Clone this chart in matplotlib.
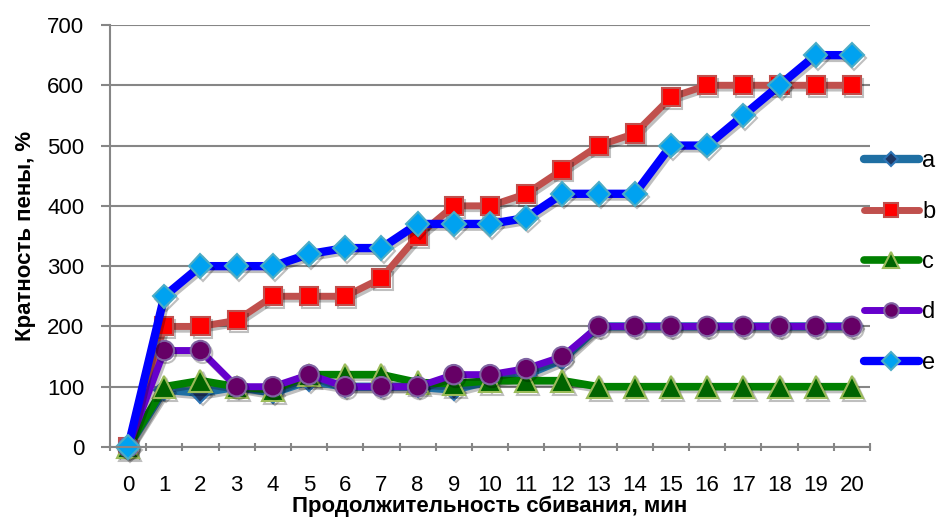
import matplotlib
matplotlib.use('Agg')
import matplotlib.pyplot as plt
import matplotlib.patheffects as pe
import numpy as np

plt.rcParams['font.family'] = ['Liberation Sans', 'DejaVu Sans']

# --- Data ---
minutes = list(range(0, 21))
series_a = [0, 95, 90, 100, 90, 110, 100, 100, 100, 95, 110, 120, 145, 200, 200, 200, 200, 200, 200, 200, 200]
series_b = [0, 200, 200, 210, 250, 250, 250, 280, 350, 400, 400, 420, 460, 500, 520, 580, 600, 600, 600, 600, 600]
series_c = [0, 100, 110, 100, 95, 120, 120, 120, 107, 105, 110, 110, 110, 100, 100, 100, 100, 100, 100, 100, 100]
series_d = [0, 160, 160, 100, 100, 120, 100, 100, 100, 120, 120, 130, 150, 200, 200, 200, 200, 200, 200, 200, 200]
series_e = [0, 250, 300, 300, 300, 320, 330, 330, 370, 370, 370, 380, 420, 420, 420, 500, 500, 550, 600, 650, 650]
labels = ['a', 'b', 'c', 'd', 'e']

# line colour, line width, marker, marker face, marker edge, marker size
styles = [
    ('#1F6FA3', 6.0, 'D', '#1F3864', '#2E75B6', 10),
    ('#C0504D', 5.0, 's', '#FF0000', '#C0504D', 13),
    ('#008000', 5.5, '^', '#006400', '#9BBB59', 16),
    ('#6600CC', 5.0, 'o', '#660066', '#8064A2', 14),
    ('#0000FF', 6.0, 'D', '#00A2F0', '#4BACC6', 12),
]

fig = plt.figure(figsize=(9.36, 5.19), dpi=100)
ax = fig.add_axes([110 / 936, 72 / 519, 760 / 936, 422 / 519])

shadow = [pe.SimpleLineShadow(offset=(1.5, -2), alpha=0.25, shadow_color='black'), pe.Normal()]

for ys, lab, (lc, lw, mk, mf, me, ms) in zip(
        [series_a, series_b, series_c, series_d, series_e], labels, styles):
    ax.plot(minutes, ys, color=lc, lw=lw, marker=mk, markerfacecolor=mf,
            markeredgecolor=me, markeredgewidth=1.5, markersize=ms,
            solid_joinstyle='round', solid_capstyle='round',
            label=lab, path_effects=shadow, clip_on=False)

ax.set_xlim(-0.5, 20.5)
ax.set_ylim(0, 700)
ax.set_yticks(np.arange(0, 701, 100))
ax.set_xticks(minutes)
ax.set_xticks(np.arange(-0.5, 20.6, 1), minor=True)
ax.tick_params(axis='x', which='major', length=0, labelsize=16, pad=20)
ax.tick_params(axis='x', which='minor', length=6, width=1.5, color='#868686', direction='inout')
ax.tick_params(axis='y', which='major', length=6.5, width=1.5, color='#868686', labelsize=16, pad=12)

ax.grid(True, axis='y', color='#868686', lw=1.5)
ax.set_axisbelow(True)
for side in ['top', 'right']:
    ax.spines[side].set_visible(False)
for side in ['left', 'bottom']:
    ax.spines[side].set_color('#868686')
    ax.spines[side].set_linewidth(1.5)

ax.set_xlabel('Продолжительность сбивания, мин', fontsize=16, fontweight='bold', labelpad=0)
ax.set_ylabel('Кратность пены, %', fontsize=16, fontweight='bold', labelpad=8)

leg = ax.legend(loc='center left', bbox_to_anchor=(0.98, 0.438), frameon=False,
                fontsize=17, handlelength=2.3, labelspacing=1.2, handletextpad=0.15,
                borderaxespad=0, markerscale=0.75)
for h in leg.legend_handles:
    h.set_path_effects([])

fig.savefig('out.png', dpi=100)
